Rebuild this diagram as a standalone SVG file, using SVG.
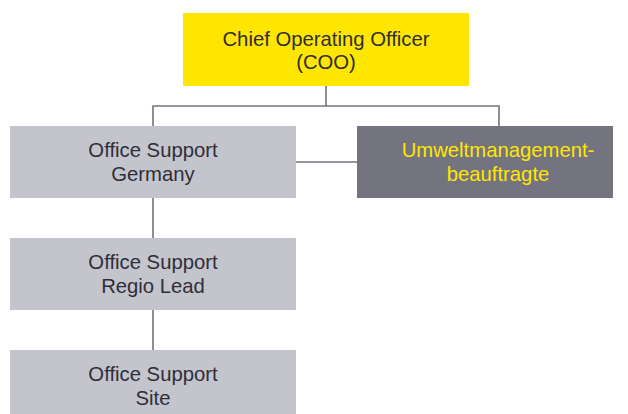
<svg xmlns="http://www.w3.org/2000/svg" width="628" height="414" viewBox="0 0 628 414">
<style>
.t{font-family:"Liberation Sans",Arial,sans-serif;font-size:20.3px;fill:#2e2e38;text-anchor:middle}
.y{fill:#ffe600}
.l{fill:#c4c4cd}
.d{fill:#747480}
.c{stroke:#747480;stroke-width:1.6;fill:none}
</style>
<rect width="628" height="414" fill="#fff"/>
<g id="connectors">
<path class="c" d="M326 86V106M153 106H499M153 105.2V126M499 105.2V126"/>
<path class="c" d="M296 162H357"/>
<path class="c" d="M153 198V238M153 310V350"/>
</g>
<g id="coo">
<rect class="y" x="183" y="13" width="286" height="73"/>
<text class="t" x="326" y="46">Chief Operating Officer</text>
<text class="t" x="326" y="69">(COO)</text>
</g>
<g id="germany">
<rect class="l" x="10" y="126" width="286" height="72"/>
<text class="t" x="153" y="157">Office Support</text>
<text class="t" x="153" y="181">Germany</text>
</g>
<g id="umwelt">
<rect class="d" x="357" y="126" width="256" height="72"/>
<text class="t" style="fill:#ffe600" x="498" y="157">Umweltmanagement-</text>
<text class="t" style="fill:#ffe600" x="498" y="181">beauftragte</text>
</g>
<g id="regio">
<rect class="l" x="10" y="238" width="286" height="72"/>
<text class="t" x="153" y="269">Office Support</text>
<text class="t" x="153" y="293">Regio Lead</text>
</g>
<g id="site">
<rect class="l" x="10" y="350" width="286" height="72"/>
<text class="t" x="153" y="381">Office Support</text>
<text class="t" x="153" y="405">Site</text>
</g>
</svg>
